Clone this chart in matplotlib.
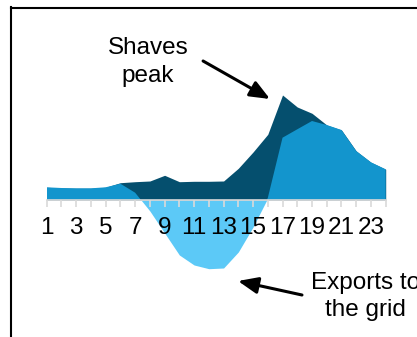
import numpy as np
import matplotlib
matplotlib.use("Agg")
import matplotlib.pyplot as plt
from matplotlib.lines import Line2D

plt.rcParams['font.family'] = ['Liberation Sans', 'DejaVu Sans']

hours = np.arange(1, 25)
load = [1.27, 1.20, 1.17, 1.17, 1.27, 1.73, 1.83, 1.90, 2.47, 1.83, 1.87, 1.87,
        1.90, 3.17, 4.80, 6.57, 10.5, 9.30, 8.67, 7.50, 7.00, 4.90, 3.77, 3.07]
net = [1.27, 1.20, 1.17, 1.17, 1.27, 1.63, 0.73, -1.10, -3.30, -5.50, -6.50, -6.87,
       -6.80, -5.20, -2.70, 0.20, 6.23, 7.07, 7.90, 7.50, 7.00, 4.90, 3.77, 3.07]
tick_labels = [str(h) if h % 2 == 1 else "" for h in hours]

c_dark = "#054F6E"
c_mid = "#1395CD"
c_light = "#5CC9F7"
c_axis = "#D9D9D9"

W, H = 417, 337
fig = plt.figure(figsize=(W / 100, H / 100), dpi=100)

# axes geometry in pixels (from top-left)
x0, x1 = 46.7, 385.7
y_top, y_bot = 90, 275
ax = fig.add_axes([x0 / W, (H - y_bot) / H, (x1 - x0) / W, (y_bot - y_top) / H])
ax.set_xlim(1, 24)
ax.set_ylim(-7.5, 11)

net_a = np.array(net)
ax.fill_between(hours, 0, load, color=c_dark, lw=0)
ax.fill_between(hours, 0, net_a, where=net_a >= 0, interpolate=True, color=c_mid, lw=0)
ax.fill_between(hours, 0, net_a, where=net_a <= 0, interpolate=True, color=c_light, lw=0)

for s in ['left', 'right', 'top']:
    ax.spines[s].set_visible(False)
ax.spines['bottom'].set_position(('data', 0))
ax.spines['bottom'].set_color(c_axis)
ax.spines['bottom'].set_linewidth(1.2)
ax.set_yticks([])
ax.set_xticks(hours)
ax.set_xticklabels(tick_labels)
ax.tick_params(axis='x', direction='out', length=5, width=1.2, color=c_axis,
               labelsize=17.5, pad=7.5, labelcolor='black')

# annotations
ax.text(7.88, 13.8, "Shaves\npeak", ha='center', va='center', fontsize=17.5,
        linespacing=1.38)
ax.annotate('', xy=(16.15, 10.1), xytext=(11.61, 13.9),
            arrowprops=dict(arrowstyle='-|>,head_length=0.6,head_width=0.25',
                            lw=2.2, color='black', mutation_scale=20,
                            shrinkA=0, shrinkB=0), annotation_clip=False)
ax.text(22.6, -9.65, "Exports to\nthe grid", ha='center', va='center', fontsize=17.5,
        linespacing=1.35)
ax.annotate('', xy=(13.98, -8.1), xytext=(18.32, -9.5),
            arrowprops=dict(arrowstyle='-|>,head_length=0.6,head_width=0.25',
                            lw=2.2, color='black', mutation_scale=20,
                            shrinkA=0, shrinkB=0), annotation_clip=False)

# outer frame (extends beyond the canvas on right and bottom)
fig.add_artist(Line2D([10.5 / W, 10.5 / W], [0, (H - 7) / H], color='black', lw=1.5,
                      transform=fig.transFigure, solid_capstyle='projecting'))
fig.add_artist(Line2D([10.5 / W, 1], [(H - 7.5) / H, (H - 7.5) / H], color='black', lw=1.5,
                      transform=fig.transFigure, solid_capstyle='projecting'))

fig.savefig("out.png", dpi=100)
